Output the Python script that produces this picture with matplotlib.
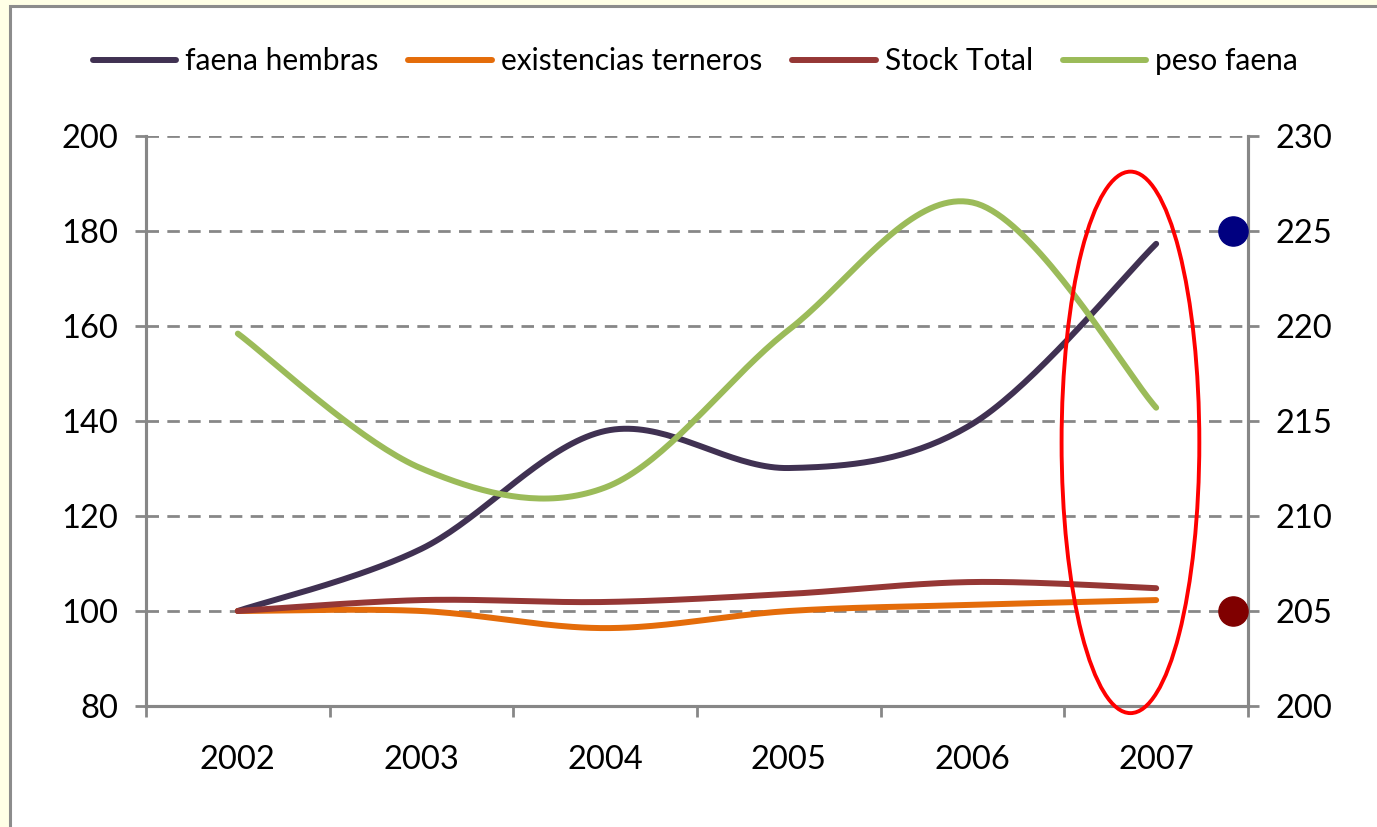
import numpy as np
import matplotlib.pyplot as plt
from matplotlib.patches import Ellipse, Rectangle

plt.rcParams['font.family'] = ['Lato', 'DejaVu Sans']

years = ["2002", "2003", "2004", "2005", "2006", "2007"]
faena_hembras = [100, 113.1, 137.9, 130.1, 139.4, 177.3]
existencias_terneros = [100, 100, 96.4, 100, 101.3, 102.3]
stock_total = [100, 102.3, 101.9, 103.6, 106.1, 104.8]
peso_faena = [219.6, 212.5, 211.5, 219.8, 226.5, 215.7]


def smooth(x, y, n=40):
    # Catmull-Rom curve through the points, like spreadsheet "smoothed lines"
    p = np.column_stack([x, y]).astype(float)
    p = np.vstack([p[0], p, p[-1]])
    out = []
    t = np.linspace(0, 1, n)[:, None]
    for i in range(1, len(p) - 2):
        p0, p1, p2, p3 = p[i - 1], p[i], p[i + 1], p[i + 2]
        c1 = p1 + (p2 - p0) / 6
        c2 = p2 - (p3 - p1) / 6
        seg = ((1 - t) ** 3) * p1 + 3 * ((1 - t) ** 2) * t * c1 \
            + 3 * (1 - t) * t ** 2 * c2 + t ** 3 * p2
        out.append(seg if i == 1 else seg[1:])
    out = np.vstack(out)
    return out[:, 0], out[:, 1]


fig = plt.figure(figsize=(13.77, 8.27), dpi=100, facecolor="#ffffe6")
fig.patches.append(Rectangle((10 / 1377, -0.05), 1.1, 1 - 6 / 827 + 0.05,
                             transform=fig.transFigure, facecolor="white",
                             edgecolor="#8c8c8c", lw=2.2, zorder=-10))

ax = fig.add_axes([146 / 1377, 1 - 706 / 827, 1102 / 1377, 570 / 827])
ax2 = ax.twinx()
ax.set_facecolor("none")
ax2.set_facecolor("none")

x = np.arange(len(years))
grey = "#878787"
lw = 4.3

ax.plot(*smooth(x, faena_hembras), color="#403152", lw=lw,
        solid_capstyle="round", label="faena hembras", zorder=3)
ax.plot(*smooth(x, existencias_terneros), color="#e46c0a", lw=lw,
        solid_capstyle="round", label="existencias terneros", zorder=3)
ax.plot(*smooth(x, stock_total), color="#953735", lw=lw,
        solid_capstyle="round", label="Stock Total", zorder=3)
ax2.plot(*smooth(x, peso_faena), color="#9bbb59", lw=lw,
         solid_capstyle="round", label="peso faena", zorder=3)

ax.set_xlim(-0.5, 5.5)
ax.set_ylim(80, 200)
ax2.set_ylim(200, 230)
ax.set_yticks(np.arange(80, 201, 20))
ax2.set_yticks(np.arange(200, 231, 5))
ax.set_xticks(x)
ax.set_xticklabels(years)
ax.set_xticks(np.arange(-0.5, 5.6, 1), minor=True)

for y in range(100, 201, 20):
    ax.axhline(y, color=grey, lw=2, ls=(0, (4.5, 3)), zorder=1)

for a in (ax, ax2):
    a.spines["top"].set_visible(False)
    for s in ("left", "right", "bottom"):
        a.spines[s].set_color(grey)
        a.spines[s].set_linewidth(2.2)
    a.tick_params(axis="y", length=8, width=2, color=grey, labelsize=23.5, pad=12)
ax.tick_params(axis="x", which="major", length=0, labelsize=23.5, pad=28)
ax.tick_params(axis="x", which="minor", length=8, width=2, color=grey)

# highlighted 2007 values
ax2.plot([5.42], [225], "o", color="#000080", ms=21, clip_on=False, zorder=5)
ax2.plot([5.42], [205], "o", color="#800000", ms=21, clip_on=False, zorder=5)
ax2.add_patch(Ellipse((4.86, 135.5), 0.75, 114, transform=ax.transData,
                      fill=False, edgecolor="red", lw=2.8, clip_on=False, zorder=6))

h1, l1 = ax.get_legend_handles_labels()
h2, l2 = ax2.get_legend_handles_labels()
fig.legend(h1 + h2, l1 + l2, loc="center", bbox_to_anchor=(0.505, 1 - 61 / 827),
           ncol=4, frameon=False, fontsize=21.5, handlelength=2.8,
           handletextpad=0.3, columnspacing=1.0)

fig.savefig("out.png", dpi=100, facecolor=fig.get_facecolor())
